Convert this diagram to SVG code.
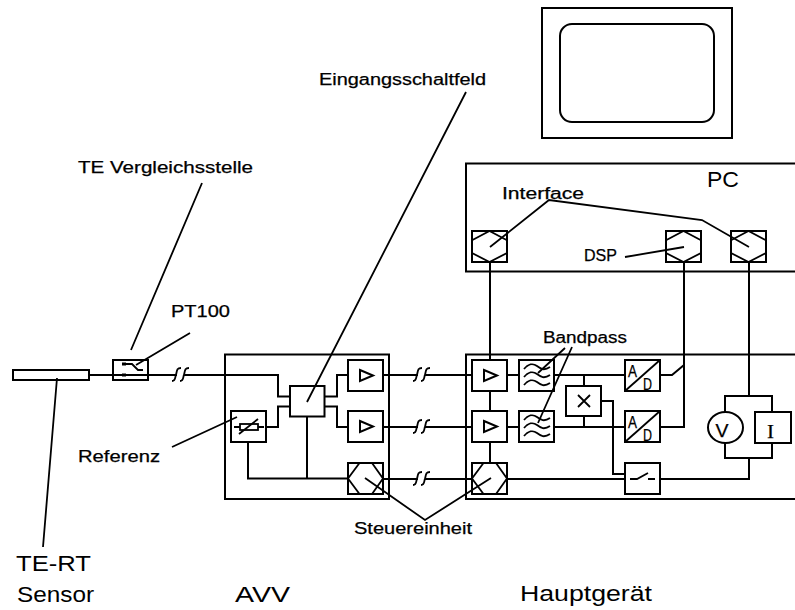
<svg xmlns="http://www.w3.org/2000/svg" width="795" height="610" viewBox="0 0 795 610">
<style>
.l{fill:none;stroke:#000;stroke-width:2}
.b{fill:none;stroke:#000;stroke-width:2}
.c{fill:none;stroke:#000;stroke-width:1.8}
.t{font-family:"Liberation Sans",Arial,sans-serif;fill:#000;stroke:#000;stroke-width:.25;font-size:16px}
.g{font-family:"Liberation Sans",Arial,sans-serif;fill:#000;font-size:22px}
</style>
<defs>
<g id="brk"><rect x="5" y="-5" width="7" height="10" fill="#fff"/><path class="c" d="M0 6 C4 6 3 1 4 0 C5 -5 5 -7 9 -7 M8 6 C12 6 11 1 12 0 C13 -5 13 -7 17 -7"/></g>
<g id="amp"><rect class="b" width="35" height="31"/><path class="l" d="M12 10 L25 15.500 L12 21 Z"/></g>
<g id="hex"><rect class="b" width="35" height="31"/><path class="c" d="M11.500 0 L0 15.500 L11.500 31 M24 0 L35 15.500 L24 31"/></g>
<g id="hexv"><rect class="b" width="35" height="31"/><path class="c" d="M0 9.300 L17.500 0 L35 9.300 M0 22 L17.500 31 L35 22"/></g>
<g id="flt"><rect class="b" width="35" height="31"/><path class="c" d="M5 9 C9 4 14 3 18 6 S25 11 31 7 M5 17 C9 12 14 11 18 14 S25 19 31 15 M5 25 C9 20 14 19 18 22 S25 27 31 23"/></g>
<g id="ad"><rect class="b" width="35" height="31"/><path class="c" d="M0 31 L35 0"/><text class="t" x="3" y="17" textLength="9" lengthAdjust="spacingAndGlyphs">A</text><text class="t" x="18" y="30" textLength="9" lengthAdjust="spacingAndGlyphs">D</text></g>
</defs>
<g id="connectors">
<path class="l" d="M89 375 H278 V396.500 H290 M290 406.500 H278 V427 H266 M248 442 V478.500 H348 M307 416 V478.500 M324 396.500 H337 V375 H348 M324 406.500 H337 V427 H348"/>
<path class="l" d="M384 375 H472 M384 427 H472 M384 479 H472 M507 375 H519 M507 427 H519 M507 479 H625 M554 375 H625 M554 427 H625 M584 375 V386 M584 416 V427 M490 262 V360 M490 391 V411 M490 442 V463 M660 375 H672 L684 365 M684 262 V427 H660 M749 262 V396 M725 412 V396 H772 V412 M725 443 V458 H772 V443 M749 458 V479 H660 M601 401 H613 V474 H625"/>
<path class="c" d="M57 378 L43 547 M136 365 L190 333 M131 350 L202 183 M172 447 L237 417 M307 402 L466 92 M365 478 L425 520 L491 478 M490 247 L549 200 L702 220 L749 247 M625 257 L684 247 M565 348 L538 373 M572 347 L538 423"/>
<use href="#brk" x="172" y="375"/><use href="#brk" x="413" y="375"/><use href="#brk" x="413" y="427"/><use href="#brk" x="413" y="479"/>
</g>
<g id="monitor"><rect class="b" x="542" y="8" width="190" height="130"/><rect class="b" x="560" y="24" width="154" height="98" rx="12"/></g>
<g id="pc"><rect class="b" x="466" y="163.500" width="340" height="108"/><text class="g" x="707" y="187" textLength="32" lengthAdjust="spacingAndGlyphs">PC</text><text class="t" x="502" y="199" textLength="82" lengthAdjust="spacingAndGlyphs">Interface</text><text class="t" x="584" y="261" textLength="33" lengthAdjust="spacingAndGlyphs">DSP</text></g>
<g id="pc-if1"><use href="#hexv" x="472" y="231"/></g>
<g id="pc-if2"><use href="#hexv" x="666" y="231"/></g>
<g id="pc-if3"><use href="#hexv" x="731" y="231"/></g>
<g id="sensor"><rect class="b" x="13" y="370" width="76" height="10"/></g>
<g id="te"><rect class="b" x="113" y="360" width="35" height="20"/><path class="c" d="M123 364 H132 L138 370 H143"/><path d="M122 362.500 h4 v3 h-4 Z M122 373.500 h4 v3 h-4 Z"/></g>
<g id="avv"><rect class="b" x="225" y="354.500" width="164" height="144.500"/></g>
<g id="mux"><rect class="b" x="290" y="386" width="34.500" height="30.500"/></g>
<g id="ref"><rect class="b" x="231" y="411" width="35" height="31"/><rect class="c" x="240" y="424" width="18" height="6"/><path class="c" d="M234 427 H240 M258 427 H264 M239 434 L258 419"/></g>
<use id="amp1" href="#amp" x="348" y="360"/><use id="amp2" href="#amp" x="348" y="411"/><use id="hex1" href="#hex" x="348" y="463"/>
<g id="main"><rect class="b" x="466" y="354.500" width="340" height="144.500"/></g>
<use id="amp3" href="#amp" x="472" y="360"/><use id="amp4" href="#amp" x="472" y="411"/><use id="hex2" href="#hex" x="472" y="463"/>
<use id="flt1" href="#flt" x="519" y="360"/><use id="flt2" href="#flt" x="519" y="411"/>
<g id="mult"><rect class="b" x="566" y="386" width="35" height="30"/><path class="c" d="M578 395 L590 407 M590 395 L578 407"/></g>
<use id="ad1" href="#ad" x="625" y="360"/><use id="ad2" href="#ad" x="625" y="411"/>
<g id="switch"><rect class="b" x="625" y="463" width="35" height="31"/><path class="c" d="M630 479 H637 L648 473 M648 479 H655"/></g>
<g id="vm"><ellipse class="b" cx="725.500" cy="427.500" rx="17.500" ry="15.500"/><text class="t" x="715.500" y="437" textLength="13" lengthAdjust="spacingAndGlyphs" style="font-size:19px">V</text></g>
<g id="im"><rect class="b" x="755" y="412" width="36" height="31"/><text class="t" x="767" y="438" textLength="7" lengthAdjust="spacingAndGlyphs" style="font-family:'Liberation Serif',serif;font-size:19px">I</text></g>
<g id="labels">
<text class="t" x="319" y="85" textLength="167" lengthAdjust="spacingAndGlyphs">Eingangsschaltfeld</text>
<text class="t" x="78" y="173" textLength="175" lengthAdjust="spacingAndGlyphs">TE Vergleichsstelle</text>
<text class="t" x="171" y="317" textLength="59" lengthAdjust="spacingAndGlyphs">PT100</text>
<text class="t" x="543" y="343" textLength="84" lengthAdjust="spacingAndGlyphs">Bandpass</text>
<text class="t" x="78" y="462" textLength="82" lengthAdjust="spacingAndGlyphs">Referenz</text>
<text class="t" x="354" y="534" textLength="118" lengthAdjust="spacingAndGlyphs">Steuereinheit</text>
<text class="g" x="16" y="571" textLength="75" lengthAdjust="spacingAndGlyphs">TE-RT</text>
<text class="g" x="17" y="602" textLength="77" lengthAdjust="spacingAndGlyphs">Sensor</text>
<text class="g" x="235" y="602" textLength="55" lengthAdjust="spacingAndGlyphs">AVV</text>
<text class="g" x="520" y="601" textLength="132" lengthAdjust="spacingAndGlyphs">Hauptgerät</text>
</g>
</svg>
